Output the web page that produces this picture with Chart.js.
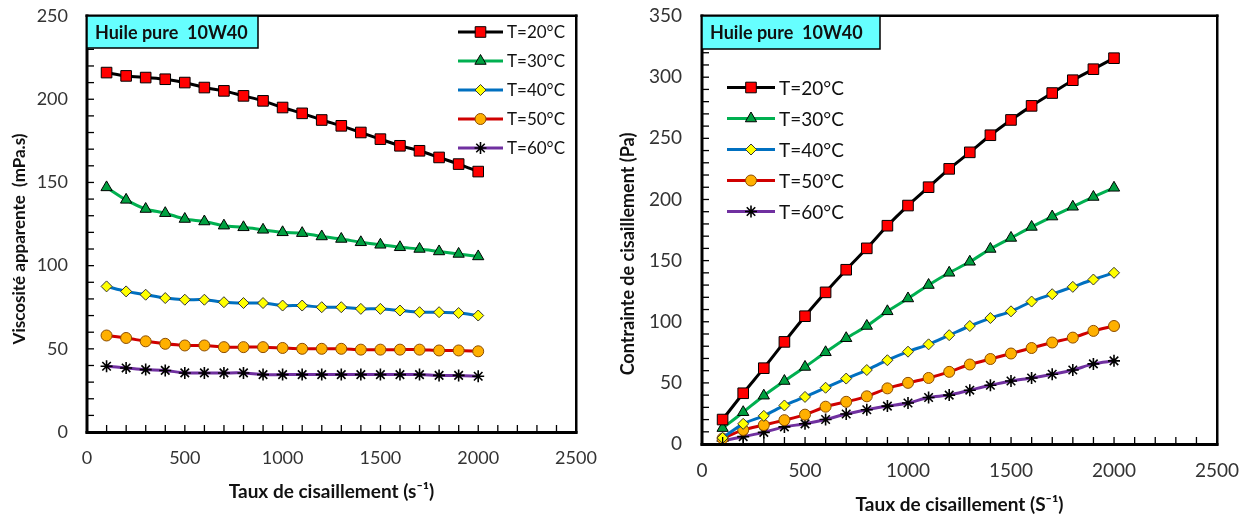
<!DOCTYPE html>
<html>
<head>
<meta charset="utf-8">
<title>Huile pure 10W40</title>
<script src="https://cdn.jsdelivr.net/npm/chart.js"></script>
<style>
    body { margin: 0; background: #fff; }
    #left { position: absolute; left: 0; top: 0; width: 600px; height: 519px; }
    #right { position: absolute; left: 610px; top: 0; width: 642px; height: 519px; }
</style>
</head>
<body>
<div id="left"><canvas id="viscChart" width="600" height="519"></canvas></div>
<div id="right"><canvas id="stressChart" width="642" height="519"></canvas></div>
<script>
    // taux de cisaillement (s-1)
    var shearRate = [100, 200, 300, 400, 500, 600, 700, 800, 900, 1000, 1100, 1200, 1300, 1400, 1500, 1600, 1700, 1800, 1900, 2000];
    var temps = ['T=20°C', 'T=30°C', 'T=40°C', 'T=50°C', 'T=60°C'];

    // viscosité apparente (mPa.s)
    var visc20 = [216, 214, 213, 212, 210, 207, 205, 202, 199, 195, 191.5, 187.5, 184, 180, 176, 172, 169, 165, 161, 156.5];
    var visc30 = [147, 139.5, 134, 131.5, 128, 126.5, 124, 123, 121.5, 120, 119.5, 117.5, 116, 114, 112.5, 111, 110, 108.5, 107, 105.5];
    var visc40 = [87.5, 84.5, 82.5, 80.5, 79.5, 79.5, 78, 77.5, 77.5, 76, 76, 75, 75, 74, 74, 73, 72, 72, 71.5, 70];
    var visc50 = [58, 56.5, 54.5, 53, 52, 52, 51, 51, 51, 50.5, 50, 50, 50, 49.5, 49.5, 49.5, 49.5, 49, 49, 48.5];
    var visc60 = [39.5, 38.5, 37.5, 37, 35.5, 35.5, 35.5, 35.5, 34.5, 34.5, 34.5, 34.5, 34.5, 34.5, 34.5, 34.5, 34.5, 34, 34, 33.5];

    // contrainte de cisaillement (Pa)
    var stress20 = [20, 41.5, 62, 83.5, 104.5, 124, 142.5, 160, 178.5, 195, 210, 225, 238.5, 252.5, 265, 276.5, 287, 297.5, 306.5, 315.5];
    var stress30 = [13, 26, 39.5, 51.5, 63, 75, 86.5, 96.5, 108.5, 119, 130, 140, 149, 159.5, 168.5, 177.5, 186, 194, 202, 209.5];
    var stress40 = [5, 16.5, 23, 31.5, 38.5, 46, 53.5, 60.5, 68.5, 75.5, 81.5, 89, 96.5, 103, 108.5, 116.5, 122.5, 128.5, 134.5, 140];
    var stress50 = [4.5, 11.5, 15.5, 19.5, 24, 30.5, 34.5, 39, 45.5, 50, 54, 59, 65, 69.5, 74, 78.5, 83, 87, 92.5, 96.5];
    var stress60 = [2.5, 6, 9.5, 14, 16.5, 20, 24.5, 28, 31, 33.5, 38, 40, 44, 48, 51.5, 54, 57, 60.5, 65.5, 68];

    var xMax = 2500, xLabelStep = 500;
    var viscMax = 250, stressMax = 350, yLabelStep = 50;

    var lineColors = ['#000000', '#00B050', '#0070C0', '#D00000', '#7030A0'];
    var pointStyles = ['rect', 'triangle', 'rectRot', 'circle', 'star'];
    var pointFills = ['#FF0000', '#00A040', '#FFFF00', '#FFB000', '#000000'];
    var pointBorders = ['#000000', '#000000', '#333333', '#8A4B00', '#000000'];
    var pointSizes = [7.5, 6.5, 5.5, 5.5, 6];

    Chart.defaults.font.family = 'Lato, sans-serif';

    function makeDatasets(series) {
        return series.map(function(vals, i) {
            return {
                label: temps[i],
                data: shearRate.map(function(x, k) { return {x: x, y: vals[k]}; }),
                borderColor: lineColors[i],
                borderWidth: 3,
                tension: 0.3,
                pointStyle: pointStyles[i],
                pointRadius: pointSizes[i],
                pointBackgroundColor: pointFills[i],
                pointBorderColor: pointBorders[i],
                pointBorderWidth: i == 4 ? 1.6 : 1
            };
        });
    }

    // cadre, graduations intérieures, titres des axes, encadré du titre et légende
    function decor(cfg) {
        return {
            id: 'decor',
            afterDraw: function(chart) {
                var ctx = chart.ctx, a = chart.chartArea;
                var sx = chart.scales.x, sy = chart.scales.y;
                ctx.save();
                ctx.fillStyle = '#000';
                ctx.fillRect(a.left - 1.5, a.top - 1.5, a.right - a.left + 3, 2.5);
                ctx.fillRect(a.right - 1, a.top - 1.5, 2.5, a.bottom - a.top + 3);
                ctx.fillRect(a.left - 1.5, a.bottom - 1, a.right - a.left + 3, 3);
                ctx.fillRect(a.left - 1.5, a.top - 1.5, 3, a.bottom - a.top + 3);
                sx.ticks.forEach(function(t) {
                    var px = sx.getPixelForValue(t.value);
                    ctx.fillRect(px - 0.6, a.bottom - 7, 1.3, 7);
                });
                sy.ticks.forEach(function(t) {
                    var py = sy.getPixelForValue(t.value);
                    ctx.fillRect(a.left, py - 0.6, 7, 1.3);
                });

                ctx.fillStyle = '#111';
                ctx.textAlign = 'center';
                ctx.textBaseline = 'middle';
                ctx.font = 'bold ' + cfg.xTitleSize + 'px Lato';
                ctx.fillText(cfg.xTitle, (a.left + a.right) / 2, chart.height - cfg.xTitleOff);
                ctx.save();
                ctx.translate(cfg.yTitleX, (a.top + a.bottom) / 2 + cfg.yTitleShift);
                ctx.rotate(-Math.PI / 2);
                ctx.font = 'bold ' + cfg.yTitleSize + 'px Lato';
                ctx.fillText(cfg.yTitle, 0, 0);
                ctx.restore();

                ctx.textAlign = 'left';
                ctx.fillStyle = '#66FFFF';
                ctx.fillRect(a.left, a.top, cfg.boxW, cfg.boxH);
                ctx.strokeStyle = '#000';
                ctx.lineWidth = 1.5;
                ctx.strokeRect(a.left, a.top, cfg.boxW, cfg.boxH);
                ctx.fillStyle = '#111';
                ctx.font = 'bold 18px Lato';
                ctx.fillText('Huile pure  10W40', a.left + 8, a.top + cfg.boxH / 2 + 1);

                ctx.font = cfg.legFont + 'px Lato';
                chart.data.datasets.forEach(function(ds, i) {
                    var x0 = cfg.legLeft ? a.left + cfg.legX : a.right - cfg.legX;
                    var y = a.top + cfg.legY + i * cfg.legGap;
                    ctx.strokeStyle = ds.borderColor;
                    ctx.lineWidth = 3;
                    ctx.beginPath();
                    ctx.moveTo(x0, y);
                    ctx.lineTo(x0 + cfg.legLen, y);
                    ctx.stroke();
                    ctx.fillStyle = ds.pointBackgroundColor;
                    ctx.strokeStyle = ds.pointBorderColor;
                    ctx.lineWidth = ds.pointBorderWidth;
                    Chart.helpers.drawPoint(ctx, {pointStyle: ds.pointStyle, radius: ds.pointRadius, rotation: 0, borderWidth: ds.pointBorderWidth}, x0 + cfg.legLen / 2, y);
                    ctx.fillStyle = '#111';
                    ctx.fillText(ds.label, x0 + cfg.legLen + 4, y + 1);
                });
                ctx.restore();
            }
        };
    }

    function makeOptions(o) {
        return {
            responsive: false,
            animation: false,
            layout: {padding: {left: 0, top: 16, right: o.padRight, bottom: 0}},
            plugins: {legend: {display: false}, tooltip: {enabled: false}},
            scales: {
                x: {
                    type: 'linear', min: 0, max: xMax,
                    ticks: {
                        stepSize: 100, autoSkip: false, maxRotation: 0, padding: 21,
                        font: {size: o.tickSize}, color: '#333',
                        callback: function(v) { return v % xLabelStep === 0 ? String(v) : ''; }
                    },
                    grid: {drawOnChartArea: false, drawTicks: true, tickLength: -6, color: 'rgba(0,0,0,0)'},
                    border: {display: false},
                    afterFit: function(s) { s.height = o.xHeight; s.paddingLeft = 0; s.paddingRight = 0; }
                },
                y: {
                    min: 0, max: o.yMax,
                    ticks: {
                        stepSize: 10, autoSkip: false, padding: o.yTickPad,
                        font: {size: o.tickSize}, color: '#333',
                        callback: function(v) { return v % yLabelStep === 0 ? String(v) : ''; }
                    },
                    grid: {drawOnChartArea: false, drawTicks: true, tickLength: -6, color: 'rgba(0,0,0,0)'},
                    border: {display: false},
                    afterFit: function(s) { s.width = o.yWidth; s.paddingTop = 0; s.paddingBottom = 0; }
                }
            }
        };
    }

    new Chart(document.getElementById('viscChart'), {
        type: 'line',
        data: {datasets: makeDatasets([visc20, visc30, visc40, visc50, visc60])},
        options: makeOptions({padRight: 24, tickSize: 18, yMax: viscMax, xHeight: 87, yWidth: 87, yTickPad: 25}),
        plugins: [decor({
            xTitle: 'Taux de cisaillement (s\u207B\u00B9)', xTitleSize: 19, xTitleOff: 27,
            yTitle: 'Viscosité apparente  (mPa.s)', yTitleSize: 17, yTitleX: 20, yTitleShift: 15,
            boxW: 171, boxH: 32, legLeft: false, legX: 118, legLen: 45, legY: 16, legGap: 29, legFont: 17
        })]
    });

    new Chart(document.getElementById('stressChart'), {
        type: 'line',
        data: {datasets: makeDatasets([stress20, stress30, stress40, stress50, stress60])},
        options: makeOptions({padRight: 35, tickSize: 19, yMax: stressMax, xHeight: 75, yWidth: 92, yTickPad: 26}),
        plugins: [decor({
            xTitle: 'Taux de cisaillement (S\u207B\u00B9)', xTitleSize: 19, xTitleOff: 14,
            yTitle: 'Contrainte de cisaillement (Pa)', yTitleSize: 18, yTitleX: 18, yTitleShift: 24,
            boxW: 178, boxH: 33, legLeft: true, legX: 25, legLen: 48, legY: 71.5, legGap: 31, legFont: 19
        })]
    });
</script>
</body>
</html>
